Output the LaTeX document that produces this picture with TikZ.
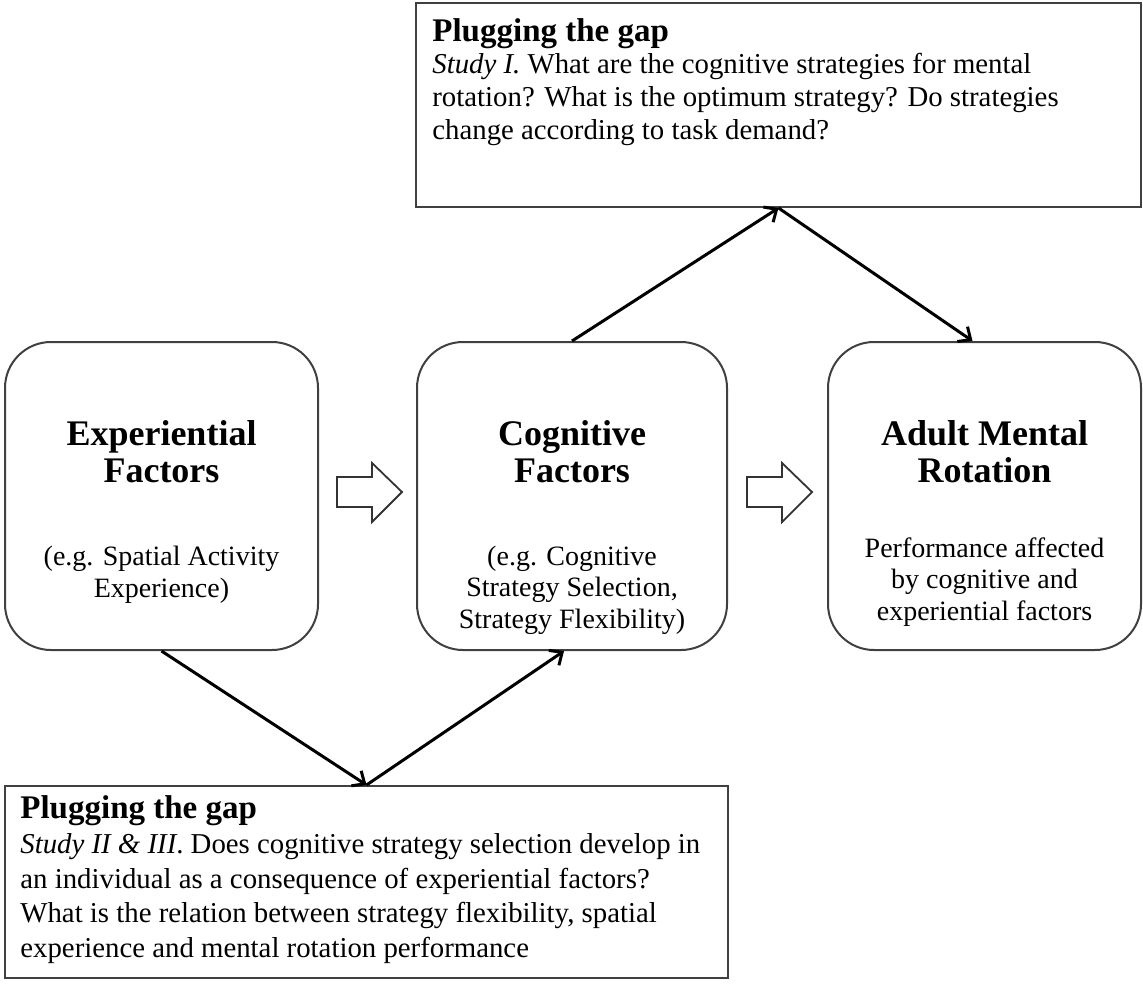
\documentclass[tikz,border=0pt]{standalone}
\usepackage{fontspec}
\setmainfont{Liberation Serif}
\usetikzlibrary{arrows.meta}
\begin{document}
\begin{tikzpicture}[x=0.5pt,y=-0.5pt,
 rbox/.style={draw=black!75, line width=1pt, rounded corners=23pt, minimum width=#1, minimum height=154pt, inner sep=0pt},
 gapbox/.style={draw=black!75, line width=1pt, inner sep=0pt},
 conn/.style={line width=1.5pt, -{Straight Barb[length=5pt,width=9pt]}},
 hollow/.style={draw=black!80, line width=0.9pt, fill=white, line join=miter},
 ttl/.style={font=\fontsize{18}{18.5}\selectfont\bfseries, align=center, anchor=base, inner sep=0pt},
 bdy/.style={font=\fontsize{14}{15.75}\selectfont, align=center, anchor=base, inner sep=0pt},
 gttl/.style={font=\fontsize{16.5}{18}\selectfont\bfseries, anchor=base west, inner sep=0pt},
 gbdy/.style={font=\fontsize{14.4}{16.5}\selectfont, align=left, anchor=base west, inner sep=0pt}]

\fill[white] (0,0) rectangle (1143,984);
\useasboundingbox (0,0) rectangle (1143,984);

% boxes
\node[rbox=156.5pt] (exp) at (161.5,496) {};
\node[rbox=155pt] (cog) at (572,496) {};
\node[rbox=156.5pt] (amr) at (984.5,496) {};
\node[gapbox, minimum width=362.5pt, minimum height=102pt] (gap1) at (778.5,105) {};
\node[gapbox, minimum width=361.5pt, minimum height=96pt] (gap2) at (366.5,882) {};

% texts (anchor base = baseline of the last line)
\node[ttl] (expT) at (161.5,482) {Experiential\\Factors};
\node[bdy] (expB) at (161.5,597) {(e.g. Spatial Activity\\Experience)};
\node[ttl] (cogT) at (572,482) {Cognitive\\Factors};
\node[bdy] (cogB) at (572,628) {(e.g. Cognitive\\Strategy Selection,\\Strategy Flexibility)};
\node[ttl] (amrT) at (984.5,482) {Adult Mental\\Rotation};
\node[bdy] (amrB) at (984.5,620) {Performance affected\\by cognitive and\\experiential factors};

\node[gttl] (g1T) at (432,42) {Plugging the gap};
\node[gbdy] (g1B) at (432,140) {\textit{Study I.} What are the cognitive strategies for mental\\rotation? What is the optimum strategy? Do strategies\\change according to task demand?};
\node[gttl] (g2T) at (20,818) {Plugging the gap};
\node[gbdy, font=\fontsize{14.4}{17.2}\selectfont] (g2B) at (20,957) {\textit{Study II \& III}. Does cognitive strategy selection develop in\\an individual as a consequence of experiential factors?\\What is the relation between strategy flexibility, spatial\\experience and mental rotation performance};

% hollow block arrows
\draw[hollow] (337,477) -- (372,477) -- (372,463) -- (402,492) -- (372,522) -- (372,507) -- (337,507) -- cycle;
\draw[hollow] (747,477) -- (782,477) -- (782,463) -- (812,492) -- (782,522) -- (782,507) -- (747,507) -- cycle;

% connectors
\draw[conn] (exp.south) -- (gap2.north);
\draw[conn] (gap2.north) -- ([xshift=-4]cog.south);
\draw[conn] (cog.north) -- (gap1.south);
\draw[conn] (gap1.south) -- ([xshift=-6]amr.north);
\end{tikzpicture}
\end{document}
